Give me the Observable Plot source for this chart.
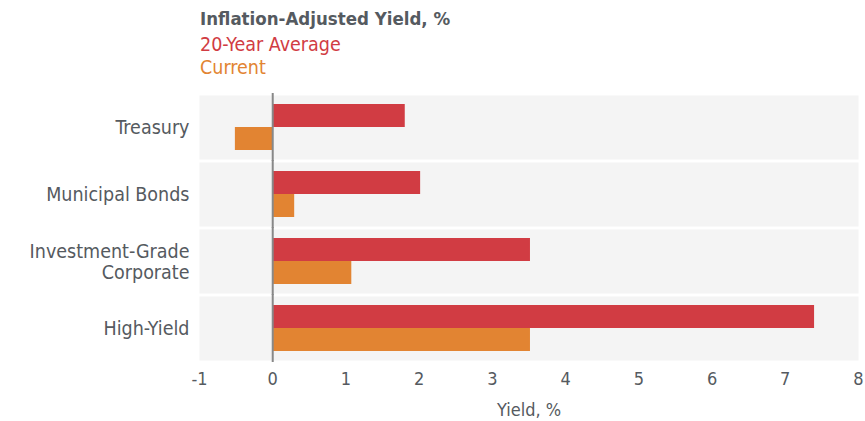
<!DOCTYPE html>
<html>
<head>
<meta charset="utf-8">
<script src="https://cdn.jsdelivr.net/npm/d3@7"></script>
<script src="https://cdn.jsdelivr.net/npm/@observablehq/plot@0.6"></script>
<style>
  html, body { margin: 0; padding: 0; background: #fff; }
  body { width: 865px; height: 421px; overflow: hidden; font-family: "Liberation Sans Narrow", "DejaVu Sans Condensed", "Roboto", sans-serif; }
  #header { padding-left: 200px; padding-top: 5px; height: 79px; box-sizing: border-box; }
  #header .t { font-weight: bold; font-size: 18.5px; color: #555a60; line-height: 28px; }
  #header .s { font-size: 19.5px; line-height: 23px; }
</style>
</head>
<body>
<div id="header">
  <div class="t">Inflation-Adjusted Yield, %</div>
  <div class="s" style="color:#d13c43">20-Year Average</div>
  <div class="s" style="color:#e28432">Current</div>
</div>
<div id="chart"></div>
<script>
const categories = ["Treasury", "Municipal Bonds", "Investment-Grade\nCorporate", "High-Yield"];
const seriesNames = ["20-Year Average", "Current"];
const average20 = [1.81, 2.02, 3.52, 7.40];
const current = [-0.51, 0.30, 1.08, 3.52];
const xTicks = [-1, 0, 1, 2, 3, 4, 5, 6, 7, 8];
const colors = ["#d13c43", "#e28432"];

const rows = [];
categories.forEach((c, i) => {
  rows.push({category: c, series: seriesNames[0], value: average20[i]});
  rows.push({category: c, series: seriesNames[1], value: current[i]});
});
const labelRows = categories.map(c => ({category: c}));

const chart = Plot.plot({
  width: 865,
  height: 342,
  marginLeft: 199,
  marginRight: 7,
  marginTop: 14,
  marginBottom: 60,
  style: {fontFamily: '"Liberation Sans Narrow", "DejaVu Sans Condensed", sans-serif', fontSize: "18px", color: "#555a60", background: "transparent"},
  facet: {data: rows, y: "category"},
  fy: {domain: categories, padding: 0.045, axis: null},
  y: {domain: seriesNames, padding: 0, paddingOuter: 0.36, paddingInner: 0, axis: null},
  x: {domain: [-1, 8], ticks: xTicks, tickFormat: d => String(d), tickSize: 0, tickPadding: 12, label: "Yield, %", labelAnchor: "center", labelArrow: "none", labelOffset: 55},
  color: {domain: seriesNames, range: colors},
  marks: [
    Plot.frame({fill: "#f4f4f4", stroke: null}),
    Plot.barX(rows, {x: "value", y: "series", fill: "series"}),
    Plot.ruleX([0], {stroke: "#888", strokeWidth: 2, insetTop: -2, insetBottom: -2}),
    Plot.text(labelRows, {fy: "category", text: "category", frameAnchor: "left", textAnchor: "end", dx: -10, fontSize: 19.5, fill: "#555a60", lineHeight: 1.1})
  ]
});
document.getElementById("chart").appendChild(chart);
</script>
</body>
</html>
